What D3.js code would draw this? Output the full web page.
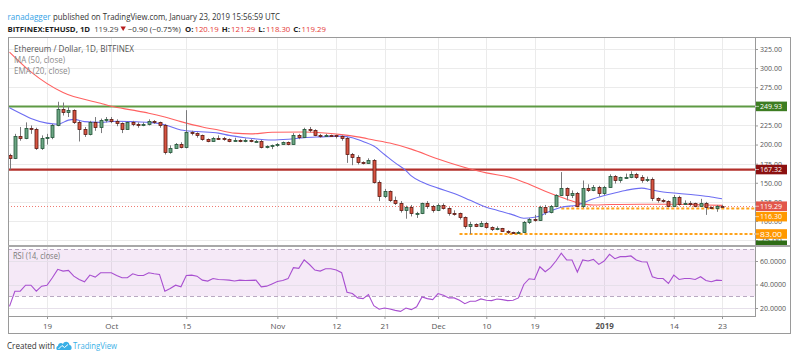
<!DOCTYPE html>
<html><head><meta charset="utf-8">
<script src="https://cdn.jsdelivr.net/npm/d3@7/dist/d3.min.js"></script>
<style>
html,body{margin:0;padding:0;background:#fff;}
svg{display:block;}
text{font-family:"Open Sans","Noto Sans",sans-serif;}
</style></head><body>
<svg id="c" width="800" height="357"></svg>
<script>
// ---------- DATA ----------
const firstDay = "2018-09-12";
const opens  = [186,183,211,209,222,220,196,209,210,225,247,242,245,229,220,214,229,223,232,233,231,228,221,229,227,226,227,231,229,226,190,196,201,197,216,215,212,207,205,209,208,207,205,206,204,206,204,205,197,198,199,201,203,201,212,210,220,219,213,211,213,212,211,208,187,184,177,176,180,151,133,139,127,124,114,118,110,110.5,123,119,115,121,117,111,110,105,93,96,94,97,92,89,91,87,85,84,86,99,103,101,118,112,120,134,143,134,137,119,143,141,145,136,145,159,153,157,158,162,157,154,155,130,128,126,120,131,122,124,123,120,124,118,117,120.19];
const highs  = [188,214,223,229,225,222,212,214,227,256,255,250,246,231,223,231,236,234,236,236,233,229,230,231,229,229,233,232,230,227,199,202,203,245,218,216,213,208,210,212,210,208,209,207,208,207,206,206,199,200,202,204,204,215,214,222,223,220,214,214,213,213,212,210,189,186,178,182,181,153,142,140,132,126,120,121,112,124,126,121,123,123,118,114,111,106,99,97,100,99,93,93,91,88,86,87,100,104,108,120,121,121,135,164,144,140,138,153,148,147,146,146,161,160,158,162,165,163,160,158,157,131,129,127,134,133,127,126,124,129,125,119,121,121.29];
const lows   = [167.32,181,205,207,214,193,193,200,207,224,238,236,227,204,210,212,218,215,229,228,224,215,220,224,222,224,225,227,222,187,188,195,195,195,212,209,205,203,204,206,205,203,204,203,203,203,203,195,195,194,197,200,199,200,207,209,216,211,209,210,210,208,205,176,173,174,174,175,149,126,130,125,121,111,103,106,104,109,116,111,113,115,107,107,102,90,83,92,92,90,87,88,86,83,83,84,85,96,99,100,108,110,118,133,127,130,118,117,138,139,132,134,144,149,150,155,156,155,150,151,126,124,124,118,119,120,121,119,118,120,108,116,112,118.30];
const closes = [183,211,209,222,220,196,209,210,225,247,242,245,229,220,214,229,223,232,233,231,228,221,229,227,226,227,231,229,226,190,196,201,197,216,215,212,207,205,209,208,207,205,206,204,206,204,205,197,198,199,201,203,201,212,210,220,219,213,211,213,212,211,208,187,184,177,176,180,151,133,139,127,124,114,118,110,110.5,123,119,115,121,117,111,110,105,93,96,94,97,92,89,91,87,85,84,86,99,103,101,118,112,120,134,143,134,137,119,143,141,145,136,145,159,153,157,158,162,157,154,155,130,128,126,120,131,122,124,123,120,124,118,117,120.19,119.29];
const rsi14 = [21.4,34.3,34.3,39.4,39.4,34.3,38.6,39.4,45.7,52.9,51.4,52,47.1,44.3,42.3,48,46.3,50,50,50,47.7,45.7,45.7,49.1,47.7,47.7,50,49.1,48.6,34.3,36.6,39.4,38,47.7,48,47.1,43.7,42.9,45.1,44.3,44,43.7,43,43.7,43.4,43.5,43.7,38,38.6,40.5,42.5,43.4,45,54.3,53.7,60.9,57,52.3,51.4,53.4,53.4,52.3,50,33.4,32.3,28.6,28,31.4,22,19,20,19.1,18,17.1,20,18.6,21,29.4,28,27.1,32.3,30.9,28.6,28.6,26.6,23.7,25.7,25.7,27.7,26.6,26.3,27.7,27.1,26.3,26.6,28.6,40,44.9,44.3,55.1,50.9,54.3,60,66.6,60.9,60.9,50.6,60.9,60,61.4,57.1,60,65.7,62,63.7,63.7,64.3,60.9,59.4,59.1,46.6,45.1,45.1,40.9,48,44.3,45.1,45.1,44.3,46.6,43.4,42.3,43.7,43.4];
const ma50Dates  = ["2018-09-12","2018-09-16","2018-09-22","2018-09-29","2018-10-01","2018-10-05","2018-10-08","2018-10-11","2018-10-14","2018-10-18","2018-10-21","2018-10-24","2018-10-27","2018-10-31","2018-11-06","2018-11-13","2018-11-16","2018-11-19","2018-11-22","2018-11-26","2018-12-01","2018-12-07","2018-12-10","2018-12-15","2018-12-18","2018-12-21","2018-12-24","2018-12-27","2018-12-30","2019-01-02","2019-01-08","2019-01-14","2019-01-20","2019-01-23"];
const ma50Values = [321,295,268,254,250,245,241,236,230,223,219,215,214,216,216.5,213,210,206,202,194,181,168,163,156,148,139,131,124,121,121.5,122,122,121,120.5];
const ema20Dates  = ["2018-09-12","2018-09-14","2018-09-16","2018-09-19","2018-09-21","2018-09-23","2018-09-24","2018-09-26","2018-09-29","2018-10-02","2018-10-05","2018-10-08","2018-10-11","2018-10-14","2018-10-17","2018-10-21","2018-10-23","2018-10-26","2018-10-31","2018-11-03","2018-11-06","2018-11-09","2018-11-13","2018-11-15","2018-11-17","2018-11-19","2018-11-21","2018-11-23","2018-11-25","2018-11-26","2018-11-28","2018-12-01","2018-12-04","2018-12-07","2018-12-10","2018-12-12","2018-12-15","2018-12-17","2018-12-19","2018-12-20","2018-12-21","2018-12-24","2018-12-27","2018-12-30","2019-01-02","2019-01-05","2019-01-08","2019-01-10","2019-01-12","2019-01-15","2019-01-18","2019-01-21","2019-01-23"];
const ema20Values = [248,241,234,228,226.5,232,233,230,229,230.5,230,229,226,219,217,215,212,209,206,207,209,210,211,209,204,198,187,176,166,159,151,143,136,127,118,114,108,103.5,105,106.5,110,118,121,129,135,140,143,140.5,138,136,134,131.5,129];
const dateTicks = ["2018-09-19","2018-10-01","2018-10-15","2018-11-01","2018-11-12","2018-11-21","2018-12-01","2018-12-10","2018-12-19","2019-01-01","2019-01-14","2019-01-23"];
const dateTickLabels = ["19","Oct","15","Nov","12","21","Dec","10","19","2019","14","23"];
const priceTicks = [75,100,125,150,175,200,225,250,275,300,325];
const rsiTicks = [20,40,60];
const rsiBands = [70,30];
const supportResistance = [249.93,167.32];
const lastPrice = 119.29;
const dashedLevels = [116.30,83.00];
const dashedLevelStarts = ["2018-12-24","2018-12-05"];
const headerOHLC = [["O:","120.19"],["H:","121.29"],["L:","118.30"],["C:","119.29"]];

// ---------- LAYOUT ----------
const L=8, R=755, T=37, B=245, RT=246, RB=316, FR=790, FB=333;
const parse = d3.utcParse("%Y-%m-%d");
const d0 = parse(firstDay);
const days = closes.map((_,i)=>d3.utcDay.offset(d0,i));
const candles = days.map((d,i)=>({d,o:opens[i],h:highs[i],l:lows[i],c:closes[i]}));

const x = d3.scaleUtc().domain([parse("2018-09-19"),parse("2019-01-23")]).range([47,722]);
const y = d3.scaleLinear().domain([325,100]).range([49,221]);
const yr = d3.scaleLinear().domain([60,20]).range([261,308]);

const svg = d3.select("#c");
const defs = svg.append("defs");
defs.append("clipPath").attr("id","cm").append("rect").attr("x",L).attr("y",T).attr("width",R-L).attr("height",B-T);
defs.append("clipPath").attr("id","cr").append("rect").attr("x",L).attr("y",RT).attr("width",R-L).attr("height",RB-RT);
defs.append("clipPath").attr("id","cb").append("rect").attr("x",R).attr("y",T).attr("width",FR-R).attr("height",B-T);

function txt(g,s,xx,yy,o){
  const t=g.append("text").attr("x",xx).attr("y",yy).text(s)
    .attr("font-size",o.size||8.5).attr("fill",o.fill||"#333");
  if(o.bold) t.attr("font-weight","bold");
  if(o.len) t.attr("textLength",o.len).attr("lengthAdjust","spacingAndGlyphs");
  if(o.anchor) t.attr("text-anchor",o.anchor);
  return t;
}

// ---------- HEADER ----------
const hd = svg.append("g");
txt(hd,"ranadagger",7.5,19.6,{fill:"#35a3e6",len:43});
txt(hd,"published on TradingView.com, January 23, 2019 15:56:59 UTC",53,19.6,{fill:"#333",len:227});
const line2 = [
  {s:"BITFINEX:ETHUSD, 1D", bold:true, fill:"#222", x:7.5, gap:4},
  {s:"119.29", fill:"#444", x:94, gap:2},
  {tri:true, x:117, w:5.4, gap:2},
  {s:"\u22120.90 (\u22120.75%)", fill:"#333", x:124, gap:3}
];
headerOHLC.forEach((p,i)=>{
  line2.push({s:p[0], bold:true, fill:"#222", x:[185,211.5,238,265][i], gap:1});
  line2.push({s:p[1], fill:"#e53935", x:0, gap:3});
});
let cursor = 0;
line2.forEach(p=>{
  const px = Math.max(p.x, cursor);
  if(p.tri){
    hd.append("path").attr("d",`M${px},26.4 L${px+p.w},26.4 L${px+p.w/2},31 Z`).attr("fill","#b71c1c");
    cursor = px + p.w + p.gap;
  } else {
    const t = txt(hd,p.s,px,31.5,{bold:p.bold,fill:p.fill,size:7.8});
    cursor = px + t.node().getComputedTextLength() + p.gap;
  }
});

// ---------- GRID ----------
const grid = svg.append("g").attr("shape-rendering","crispEdges").attr("stroke","#ebebeb").attr("stroke-width",1);
dateTicks.forEach(s=>{
  const xx=Math.round(x(parse(s)))+0.5;
  grid.append("line").attr("x1",xx).attr("x2",xx).attr("y1",T).attr("y2",B);
  grid.append("line").attr("x1",xx).attr("x2",xx).attr("y1",RT).attr("y2",RB);
});
priceTicks.forEach(v=>{
  const yy=Math.round(y(v))+0.5;
  if(yy>T && yy<B) grid.append("line").attr("x1",L).attr("x2",R).attr("y1",yy).attr("y2",yy);
});

// ---------- RSI PANE ----------
const rg = svg.append("g").attr("clip-path","url(#cr)");
rg.append("rect").attr("x",L).attr("width",R-L).attr("y",yr(rsiBands[0])).attr("height",yr(rsiBands[1])-yr(rsiBands[0]))
  .attr("fill","#9c27b0").attr("fill-opacity",0.1);
rsiTicks.forEach(v=>{
  const yy=Math.round(yr(v))+0.5;
  rg.append("line").attr("x1",L).attr("x2",R).attr("y1",yy).attr("y2",yy).attr("stroke","#e6e0ea").attr("shape-rendering","crispEdges");
});
rsiBands.forEach(v=>{
  const yy=Math.round(yr(v))+0.5;
  rg.append("line").attr("x1",L).attr("x2",R).attr("y1",yy).attr("y2",yy)
    .attr("stroke","#b9a9c2").attr("stroke-dasharray","4,3").attr("shape-rendering","crispEdges");
});
rg.append("path").datum(rsi14)
  .attr("d",d3.line().x((v,i)=>x(days[i])).y(v=>yr(v)))
  .attr("fill","none").attr("stroke","#a84fd0").attr("stroke-width",1.1);

// ---------- MAIN PANE ----------
const mg = svg.append("g").attr("clip-path","url(#cm)");
mg.append("line").attr("x1",L).attr("x2",R).attr("y1",y(supportResistance[0])).attr("y2",y(supportResistance[0]))
  .attr("stroke","#5e9a44").attr("stroke-width",2);
mg.append("line").attr("x1",L).attr("x2",R).attr("y1",y(supportResistance[1])).attr("y2",y(supportResistance[1]))
  .attr("stroke","#b3302b").attr("stroke-width",2.2);
mg.append("line").attr("x1",L).attr("x2",R).attr("y1",Math.round(y(lastPrice))+0.5).attr("y2",Math.round(y(lastPrice))+0.5)
  .attr("stroke","#ef7b72").attr("stroke-width",1).attr("stroke-dasharray","1,2");
dashedLevels.forEach((v,i)=>{
  mg.append("line").attr("x1",x(parse(dashedLevelStarts[i]))).attr("x2",R).attr("y1",y(v)).attr("y2",y(v))
    .attr("stroke","#ffa31a").attr("stroke-width",2).attr("stroke-dasharray","3,2");
});
const lineGen = d3.line().curve(d3.curveMonotoneX);
mg.append("path").attr("d",lineGen(ma50Dates.map((s,i)=>[x(parse(s)),y(ma50Values[i])])))
  .attr("fill","none").attr("stroke","#ff6161").attr("stroke-width",1.1);
mg.append("path").attr("d",lineGen(ema20Dates.map((s,i)=>[x(parse(s)),y(ema20Values[i])])))
  .attr("fill","none").attr("stroke","#6d6df2").attr("stroke-width",1.1);
const cg = mg.append("g");
candles.forEach(k=>{
  const cx=Math.round(x(k.d))+0.5;
  const up=k.c>=k.o;
  cg.append("line").attr("x1",cx).attr("x2",cx).attr("y1",y(k.h)).attr("y2",y(k.l))
    .attr("stroke","#7a7a7c").attr("stroke-width",1);
  const top=Math.round(y(Math.max(k.o,k.c)))+0.5;
  const bot=Math.max(top+1,Math.round(y(Math.min(k.o,k.c)))+0.5);
  cg.append("rect").attr("x",cx-1.5).attr("width",3).attr("y",top).attr("height",bot-top)
    .attr("fill",up?"#6ba583":"#d75442").attr("stroke",up?"#225437":"#5b1a13").attr("stroke-width",0.8);
});

// legend
txt(svg,"Ethereum / Dollar, 1D, BITFINEX",14,51.5,{fill:"#555",size:8.2,len:120});
txt(svg,"MA (50, close)",14,62.8,{fill:"#8a8a8a",size:8.2,len:51});
txt(svg,"EMA (20, close)",14,74.1,{fill:"#8a8a8a",size:8.2,len:56});
txt(svg,"RSI (14, close)",13,258.5,{fill:"#7a7a7a",size:8.2,len:47});

// ---------- FRAMES ----------
const fr = svg.append("g").attr("fill","none").attr("shape-rendering","crispEdges");
fr.append("rect").attr("x",L+0.5).attr("y",T+0.5).attr("width",FR-L).attr("height",FB-T).attr("stroke","#9a9a9a");
fr.append("line").attr("x1",R+0.5).attr("x2",R+0.5).attr("y1",T).attr("y2",RB+1).attr("stroke","#9a9a9a");
fr.append("line").attr("x1",L).attr("x2",R).attr("y1",RB+0.5).attr("y2",RB+0.5).attr("stroke","#9a9a9a");
fr.append("line").attr("x1",L).attr("x2",FR).attr("y1",B+0.5).attr("y2",B+0.5).attr("stroke","#a8a8a8").attr("stroke-width",2);

// ---------- AXES ----------
const pa = svg.append("g").attr("transform",`translate(${R},0)`)
  .call(d3.axisRight(y).tickValues(priceTicks.filter(v=>y(v)>T+4&&y(v)<B-3)).tickFormat(d=>d.toFixed(2)).tickSize(3).tickPadding(2));
pa.select(".domain").remove();
pa.selectAll("line").attr("stroke","#999");
pa.selectAll("text").attr("font-size",7.5).attr("fill","#555").attr("textLength",22).attr("lengthAdjust","spacingAndGlyphs").attr("font-family","Open Sans");

const ra = svg.append("g").attr("transform",`translate(${R},0)`)
  .call(d3.axisRight(yr).tickValues(rsiTicks).tickFormat(d=>d.toFixed(4)).tickSize(3).tickPadding(2));
ra.select(".domain").remove();
ra.selectAll("line").attr("stroke","#999");
ra.selectAll("text").attr("font-size",7.5).attr("fill","#555").attr("textLength",26).attr("lengthAdjust","spacingAndGlyphs").attr("font-family","Open Sans");

const xa = svg.append("g").attr("transform",`translate(0,${RB})`)
  .call(d3.axisBottom(x).tickValues(dateTicks.map(parse)).tickFormat((d,i)=>dateTickLabels[i]).tickSize(3).tickPadding(4));
xa.select(".domain").remove();
xa.selectAll("line").attr("stroke","#999");
xa.selectAll("text").attr("font-size",8).attr("fill","#555").attr("font-family","Open Sans")
  .attr("font-weight",(d,i)=>dateTickLabels[i]==="2019"?"bold":"normal");

// ---------- PRICE LABEL BOXES ----------
const boxes = [
  {v:supportResistance[0], bg:"#3d7d22", label:true},
  {v:supportResistance[1], bg:"#8b1010", label:true},
  {v:lastPrice, bg:"#e2574b", label:true},
  {v:dashedLevels[0], bg:"#ff9800", label:true},
  {v:dashedLevels[1], bg:"#ff9800", label:true}
].map(b=>({...b, cy:y(b.v)}));
boxes.sort((a,b)=>a.cy-b.cy);
for(let i=1;i<boxes.length;i++){ if(boxes[i].cy-boxes[i-1].cy<10.4) boxes[i].cy=boxes[i-1].cy+10.4; }
const bg = svg.append("g").attr("clip-path","url(#cb)");
// an off-screen level's marker pinned to the pane's bottom edge (its value is cut off)
bg.append("rect").attr("x",R+1).attr("y",B-4.5).attr("width",31).attr("height",9.6).attr("fill","#2f6d17");
boxes.forEach(b=>{
  bg.append("rect").attr("x",R+1).attr("y",b.cy-4.8).attr("width",31).attr("height",9.6).attr("fill",b.bg);
  bg.append("line").attr("x1",R).attr("x2",R+4).attr("y1",b.cy).attr("y2",b.cy).attr("stroke","#fff").attr("stroke-opacity",0.6);
  bg.append("text").attr("x",R+5).attr("y",b.cy).attr("dy","0.35em").text(b.v.toFixed(2))
    .attr("font-size",7.5).attr("fill","#fff").attr("textLength",22).attr("lengthAdjust","spacingAndGlyphs");
});

// ---------- FOOTER ----------
txt(svg,"Created with",7,349,{fill:"#333",size:9.5,len:48});
const logo = svg.append("g").attr("fill","#3ab0e6");
logo.append("path").attr("d","M57.5,350 C56,350 55.8,346.5 58,346 C58,343 61.5,342 63,344 C64,341 69,341 69.5,345 C72,345 72.5,350 70,350 Z");
logo.append("path").attr("d","M58.5,349 L62,345.5 L64.5,347.5 L68,344.5").attr("fill","none").attr("stroke","#fff").attr("stroke-width",1);
txt(svg,"TradingView",73,349,{fill:"#3ab0e6",size:9.5,len:44});
</script>
</body></html>
